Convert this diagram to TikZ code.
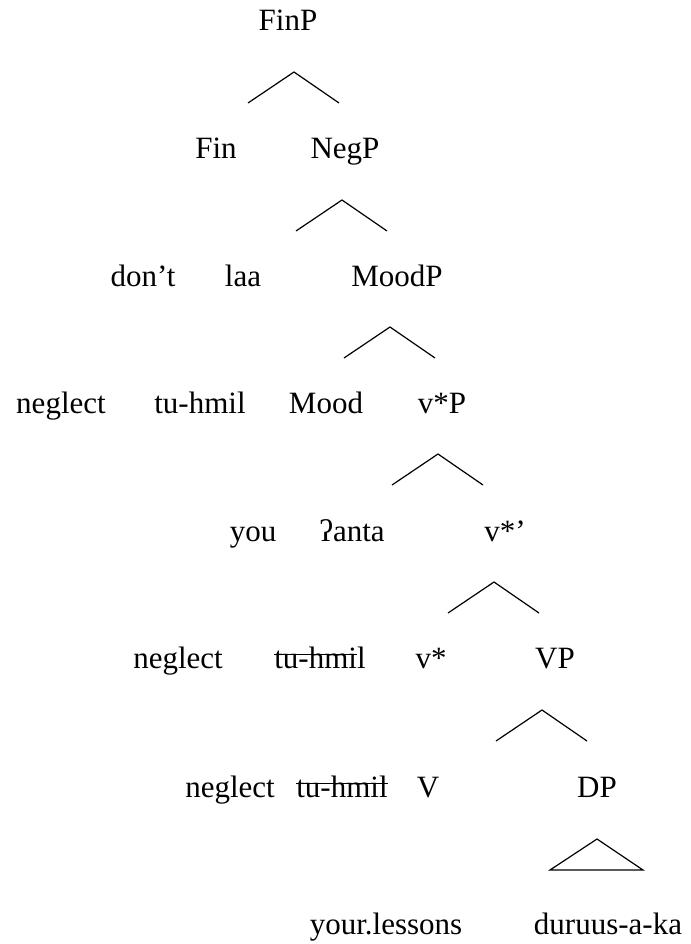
\documentclass[tikz,border=0pt]{standalone}
\usepackage{fontspec}
\setmainfont{Liberation Serif}
% struck-through copy: a rule laid over the text at about x-height
\newcommand{\struck}[1]{\setbox0\hbox{#1}\rlap{\rule[0.42em]{\wd0}{1.3pt}}\box0}
\begin{document}
\begin{tikzpicture}[x=1pt,y=-1pt,
  lbl/.style={anchor=base, inner sep=0pt, font=\fontsize{31}{37}\selectfont},
  branch/.style={line width=1.2pt, line join=miter}]
\useasboundingbox (0,0) rectangle (690,944);

% labels, row by row (baselines)
\node[lbl] (finp)   at (288,31)  {FinP};
\node[lbl] (fin)    at (216,159) {Fin};
\node[lbl] (negp)   at (345,159) {NegP};
\node[lbl] (dont)   at (143,286) {don’t};
\node[lbl] (laa)    at (243,286) {laa};
\node[lbl] (moodp)  at (397,286) {MoodP};
\node[lbl] (negl1)  at (61,413)  {neglect};
\node[lbl] (tuh1)   at (200,413) {tu-hmil};
\node[lbl] (mood)   at (326,413) {Mood};
\node[lbl] (vsp)    at (442,413) {v*P};
\node[lbl] (you)    at (253,541) {you};
\node[lbl] (anta)   at (352,541) {ʔanta};
\node[lbl] (vsbar)  at (505,541) {v*’};
\node[lbl] (negl2)  at (178,668) {neglect};
\node[lbl] (tuh2)   at (320,668) {\struck{tu-hmi}l};
\node[lbl] (vs)     at (431,668) {v*};
\node[lbl] (vp)     at (555,668) {VP};
\node[lbl] (negl3)  at (230,797) {neglect};
\node[lbl] (tuh3)   at (342,797) {\struck{tu-hmil}};
\node[lbl] (v)      at (428,797) {V};
\node[lbl] (dp)     at (597,797) {DP};
\node[lbl] (lessons) at (386,934) {your.lessons};
\node[lbl] (duruus) at (608,934) {duruus-a-ka};

% branching carets
\foreach \n/\x/\y in {1/294/72, 2/342/200, 3/390/327, 4/438/454, 5/494/582, 6/542/710} {
  \coordinate (top\n) at (\x,\y);
  \coordinate (lft\n) at (\x-46,\y+31);
  \coordinate (rgt\n) at (\x+45,\y+31);
  \draw[branch] (lft\n) -- (top\n) -- (rgt\n);
}

% triangle over the unanalysed DP
\coordinate (tritop) at (597,839);
\coordinate (trilft) at (550,870);
\coordinate (trirgt) at (643,870);
\draw[branch] (trilft) -- (tritop) -- (trirgt) -- cycle;
\end{tikzpicture}
\end{document}
